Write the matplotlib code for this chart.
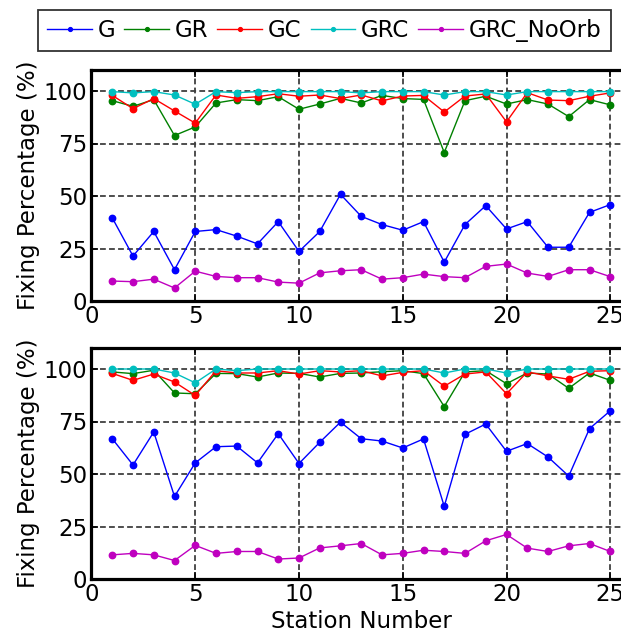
import matplotlib
matplotlib.use("Agg")
import matplotlib.pyplot as plt
import numpy as np

stations = list(range(1, 26))

top_G = [39.6, 21.4, 33.1, 14.9, 33.1, 34.0, 30.9, 27.2, 37.8, 23.6, 33.1, 50.8, 40.3,
         36.4, 33.7, 37.8, 18.5, 36.4, 45.4, 34.3, 37.8, 25.6, 25.6, 42.2, 45.9]
top_GR = [95.4, 92.7, 95.9, 78.8, 82.9, 94.3, 95.9, 95.4, 97.3, 91.3, 93.8, 96.5, 94.3,
          97.9, 96.4, 96.0, 70.7, 95.4, 97.5, 93.8, 95.9, 93.8, 87.8, 95.9, 93.4]
top_GC = [97.9, 91.6, 96.4, 90.5, 84.7, 98.1, 96.5, 97.3, 98.7, 97.5, 98.1, 96.4, 98.1,
          95.3, 97.6, 97.9, 90.0, 97.6, 98.6, 85.3, 99.2, 95.7, 95.4, 97.5, 99.1]
top_GRC = [99.7, 99.1, 99.7, 98.1, 93.7, 99.7, 99.2, 99.7, 99.7, 99.7, 99.7, 99.7, 99.1,
           99.7, 99.7, 99.7, 98.1, 99.7, 99.7, 98.1, 99.7, 99.7, 99.7, 99.7, 99.7]
top_NoOrb = [9.5, 9.2, 10.4, 6.2, 14.2, 11.7, 11.1, 11.1, 9.0, 8.5, 13.4, 14.4, 14.9,
             10.4, 11.1, 12.8, 11.6, 11.1, 16.5, 17.6, 13.3, 11.7, 14.9, 14.9, 11.6]

bot_G = [66.8, 54.3, 70.0, 39.3, 55.3, 63.0, 63.3, 55.3, 69.2, 55.0, 65.1, 74.7, 66.8,
         65.7, 62.4, 66.7, 34.6, 68.9, 73.8, 60.8, 64.5, 58.1, 49.0, 71.6, 80.1]
bot_GR = [98.6, 97.8, 99.4, 88.6, 88.2, 97.9, 97.8, 96.2, 98.1, 97.9, 96.2, 97.9, 98.1,
          98.7, 99.2, 97.8, 82.1, 98.6, 99.2, 93.0, 98.1, 97.6, 90.8, 98.1, 94.6]
bot_GC = [97.9, 94.6, 97.6, 93.8, 87.4, 99.2, 98.1, 98.1, 99.2, 97.6, 99.2, 98.6, 99.2,
          96.7, 98.4, 99.2, 91.8, 97.6, 98.6, 88.2, 98.6, 96.7, 95.1, 98.9, 99.2]
bot_GRC = [100.0, 100.0, 100.0, 98.1, 93.4, 100.0, 99.2, 100.0, 100.0, 100.0, 100.0, 100.0, 100.0,
           100.0, 100.0, 100.0, 98.1, 100.0, 100.0, 98.1, 100.0, 100.0, 100.0, 100.0, 100.0]
bot_NoOrb = [11.5, 12.2, 11.5, 8.8, 16.0, 12.2, 13.1, 13.1, 9.5, 10.0, 14.8, 15.8, 16.9,
             11.5, 12.2, 13.7, 13.1, 12.2, 18.2, 21.2, 14.7, 13.1, 15.8, 16.9, 13.1]

labels = ["G", "GR", "GC", "GRC", "GRC_NoOrb"]
colors = ["#0000ff", "#008000", "#ff0000", "#00bfbf", "#bf00bf"]
xticks = [0, 5, 10, 15, 20, 25]
yticks = [0, 25, 50, 75, 100]

plt.rcParams['font.family'] = ['DejaVu Sans']
W, H = 621, 635
fig = plt.figure(figsize=(W / 100, H / 100), dpi=100)

left = 91.5
ppu = 20.75
xmax = 26
axw = xmax * ppu
FS = 16.5

def make_ax(top_px, bot_px):
    return fig.add_axes([left / W, 1 - bot_px / H, axw / W, (bot_px - top_px) / H])

ax1 = make_ax(70, 301)
ax2 = make_ax(348, 579)

handles = None
for ax, series in [(ax1, [top_G, top_GR, top_GC, top_GRC, top_NoOrb]),
                   (ax2, [bot_G, bot_GR, bot_GC, bot_GRC, bot_NoOrb])]:
    hs = []
    for vals, c, lab in zip(series, colors, labels):
        h, = ax.plot(stations, vals, '-o', color=c, lw=1.0, ms=4.6, label=lab, zorder=3)
        hs.append(h)
    handles = hs
    ax.set_xlim(0, xmax)
    ax.set_ylim(0, 110)
    ax.set_xticks(xticks)
    ax.set_yticks(yticks)
    ax.grid(True, color='#404040', ls=(0, (3.2, 1.8)), lw=1.3)
    ax.tick_params(direction='in', top=True, right=True, labelsize=FS, length=5, width=1.2, pad=3)
    for s in ax.spines.values():
        s.set_linewidth(2.3)
    ax.set_ylabel("Fixing Percentage (%)", fontsize=FS, labelpad=3)

ax2.set_xlabel("Station Number", fontsize=FS, labelpad=3)

leg = fig.legend(handles=handles, labels=labels, loc='upper left',
                 bbox_to_anchor=(38 / W, 1 - 10 / H), ncol=5, fontsize=FS,
                 frameon=True, fancybox=False, edgecolor='black', handlelength=1.95,
                 handletextpad=0.25, columnspacing=0.4, borderpad=0.4, markerscale=0.6,
                 borderaxespad=0)
leg.get_frame().set_linewidth(1.3)

fig.savefig("out.png", dpi=100)
